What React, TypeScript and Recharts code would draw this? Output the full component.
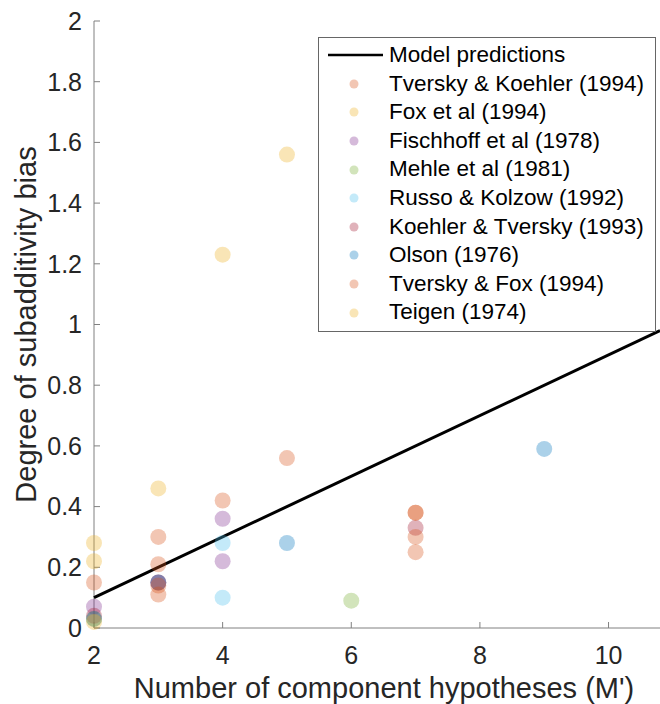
import {
  ScatterChart,
  Scatter,
  XAxis,
  YAxis,
  Legend,
  Label,
} from 'recharts';

const FONT = '"Liberation Sans", Helvetica, Arial, sans-serif';

// M' (number of component hypotheses) vs. subadditivity bias, per study
const tverskyKoehler1994 = [
  { m: 2, bias: 0.15 },
  { m: 3, bias: 0.3 },
  { m: 3, bias: 0.21 },
  { m: 4, bias: 0.42 },
  { m: 5, bias: 0.56 },
];
const fox1994 = [
  { m: 2, bias: 0.28 },
  { m: 2, bias: 0.22 },
  { m: 3, bias: 0.46 },
];
const fischhoff1978 = [
  { m: 2, bias: 0.07 },
  { m: 3, bias: 0.15 },
  { m: 4, bias: 0.36 },
  { m: 4, bias: 0.22 },
];
const mehle1981 = [
  { m: 2, bias: 0.03 },
  { m: 6, bias: 0.09 },
];
const russoKolzow1992 = [
  { m: 4, bias: 0.28 },
  { m: 4, bias: 0.1 },
];
const koehlerTversky1993 = [
  { m: 2, bias: 0.04 },
  { m: 3, bias: 0.15 },
  { m: 7, bias: 0.33 },
];
const olson1976 = [
  { m: 2, bias: 0.03 },
  { m: 3, bias: 0.15 },
  { m: 5, bias: 0.28 },
  { m: 9, bias: 0.59 },
];
const tverskyFox1994 = [
  { m: 3, bias: 0.11 },
  { m: 3, bias: 0.14 },
  { m: 7, bias: 0.38 },
  { m: 7, bias: 0.38 },
  { m: 7, bias: 0.3 },
  { m: 7, bias: 0.25 },
];
const teigen1974 = [
  { m: 2, bias: 0.02 },
  { m: 4, bias: 1.23 },
  { m: 5, bias: 1.56 },
];

const modelPredictions = [
  { m: 2, bias: 0.1 },
  { m: 10.8, bias: 0.98 },
];

const xTicks = [2, 4, 6, 8, 10];
const yTicks = [0, 0.2, 0.4, 0.6, 0.8, 1, 1.2, 1.4, 1.6, 1.8, 2];

// matlab default color order
const studies = [
  { name: 'Tversky & Koehler (1994)', color: '#D95319', data: tverskyKoehler1994 },
  { name: 'Fox et al (1994)', color: '#EDB120', data: fox1994 },
  { name: 'Fischhoff et al (1978)', color: '#7E2F8E', data: fischhoff1978 },
  { name: 'Mehle et al (1981)', color: '#77AC30', data: mehle1981 },
  { name: 'Russo & Kolzow (1992)', color: '#4DBEEE', data: russoKolzow1992 },
  { name: 'Koehler & Tversky (1993)', color: '#A2142F', data: koehlerTversky1993 },
  { name: 'Olson (1976)', color: '#0072BD', data: olson1976 },
  { name: 'Tversky & Fox (1994)', color: '#D95319', data: tverskyFox1994 },
  { name: 'Teigen (1974)', color: '#EDB120', data: teigen1974 },
];

const ALPHA = 0.33;

function dot(color: string) {
  return (props: any) => (
    <circle cx={props.cx} cy={props.cy} r={8} fill={color} fillOpacity={ALPHA} />
  );
}

function LegendBox() {
  const row = { display: 'flex', alignItems: 'center', height: 28.6 };
  return (
    <div
      style={{
        width: 338,
        height: 295,
        boxSizing: 'border-box',
        border: '1px solid #666',
        background: '#fff',
        paddingTop: 3,
        fontFamily: FONT,
        fontSize: 22.5,
        color: '#000',
        lineHeight: 1,
      }}
    >
      <div style={row}>
        <svg width={70} height={28}>
          <line x1={9} x2={64} y1={14} y2={14} stroke="#000" strokeWidth={2.5} />
        </svg>
        <span>Model predictions</span>
      </div>
      {studies.map((s) => (
        <div key={s.name} style={row}>
          <svg width={70} height={28}>
            <circle cx={35} cy={14} r={4.5} fill={s.color} fillOpacity={ALPHA} />
          </svg>
          <span>{s.name}</span>
        </div>
      ))}
    </div>
  );
}

export default function App() {
  return (
    <div style={{ position: 'absolute', left: 0, top: 0, width: 660, height: 704 }}>
      <ScatterChart
        width={660}
        height={704}
        margin={{ top: 21, right: 0, bottom: 0, left: 0 }}
      >
        <XAxis
          type="number"
          dataKey="m"
          domain={[2, 10.8]}
          ticks={xTicks}
          height={76}
          interval={0}
          tickSize={-6}
          tickMargin={24}
          axisLine={{ stroke: '#808080' }}
          tickLine={{ stroke: '#808080' }}
          tick={{ fontSize: 25, fill: '#262626', fontFamily: FONT }}
        >
          <Label
            value="Number of component hypotheses (M')"
            position="insideBottom"
            offset={6}
            dx={7}
            style={{ fontSize: 29, fill: '#262626', fontFamily: FONT }}
          />
        </XAxis>
        <YAxis
          type="number"
          dataKey="bias"
          domain={[0, 2]}
          ticks={yTicks}
          width={94}
          interval={0}
          tickSize={-6}
          tickMargin={18}
          tickFormatter={(v: number) => String(v)}
          axisLine={{ stroke: '#808080' }}
          tickLine={{ stroke: '#808080' }}
          tick={{ fontSize: 25, fill: '#262626', fontFamily: FONT }}
        >
          <Label
            value="Degree of subadditivity bias"
            angle={-90}
            position="insideLeft"
            offset={26}
            style={{ fontSize: 29, fill: '#262626', fontFamily: FONT, textAnchor: 'middle' }}
          />
        </YAxis>
        <Scatter
          name="Model predictions"
          data={modelPredictions}
          line={{ stroke: '#000', strokeWidth: 3 }}
          shape={() => <g />}
          isAnimationActive={false}
        />
        {studies.map((s) => (
          <Scatter
            key={s.name}
            name={s.name}
            data={s.data}
            fill={s.color}
            shape={dot(s.color)}
            isAnimationActive={false}
          />
        ))}
        <Legend
          layout="vertical"
          align="center"
          verticalAlign="middle"
          content={() => <LegendBox />}
          wrapperStyle={{ left: 318, top: 37, width: 338, height: 295 }}
        />
      </ScatterChart>
    </div>
  );
}
